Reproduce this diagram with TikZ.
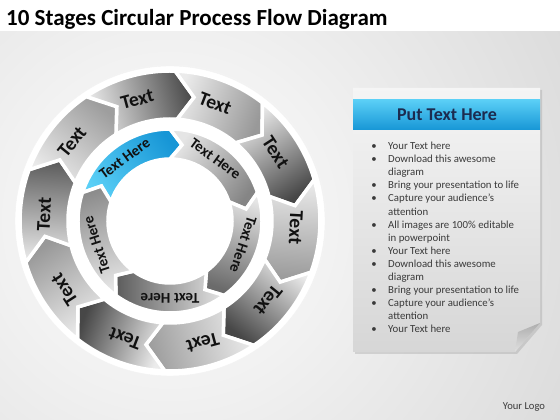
\documentclass[tikz,border=0pt]{standalone}
\usepackage{fontspec}
\setmainfont{Carlito}
\usepackage{tikz}
\usetikzlibrary{shapes}
\usetikzlibrary{shadows}
\usetikzlibrary{calc}
\usetikzlibrary{positioning}
\usepackage{xcolor}
\definecolor{mytext}{HTML}{111111}
\definecolor{mygray}{HTML}{3A3A3A}
\definecolor{mynavy}{HTML}{1C2B4F}
\definecolor{bluetop}{HTML}{5ACFF6}
\definecolor{bluebot}{HTML}{1796D6}
\newcommand{\listbullet}{\llap{\textbullet\hspace{11.5pt}}}
\tikzset{x=1pt, y=1pt, every node/.style={inner sep=0pt}}
\tikzstyle{seg} = [draw=white, line width=3.5pt]
\tikzstyle{outlabel} = [text=mytext, font={\bfseries\fontsize{19.5}{21}\selectfont}]
\tikzstyle{inlabel} = [text=mytext, font={\bfseries\fontsize{15}{17}\selectfont}]
\tikzstyle{listtext} = [align=left, text=mygray, font={\fontsize{10.8}{13.07}\selectfont}]

\begin{document}
\begin{tikzpicture}
  \useasboundingbox (0,0) rectangle (560,420);
  \fill[white] (0,0) rectangle (560,420);
  \begin{scope}
    \clip (0,0) rectangle (560,388);
    \shade[inner color=white, outer color=black!22] (170,200) circle (700);
  \end{scope}
  \node[anchor=base west, font={\bfseries\fontsize{23}{26}\selectfont}] (title) at (6,394) {10 Stages Circular Process Flow Diagram};

  \begin{scope}[shift={(170,199)}]
    \fill[white, draw=black!5] (0,0) circle (155);
    \foreach \c/\t [count=\k] in {105/70, 69/40, 33/72, -3/40, -39/72, -75/38, -111/72, -147/40, 177/64, 141/38} {
      \pgfmathsetmacro{\sa}{\c-180}
      \shadedraw[seg, top color=black!\t, bottom color=black!8, shading angle=\sa]
        (\c+19:150) arc[start angle=\c+19, end angle=\c-17, radius=150] -- (\c-26:126)
        -- (\c-19:102) arc[start angle=\c-19, end angle=\c+17, radius=102] -- (\c+10:126) -- cycle;
      \node[outlabel, rotate=\c-90] (out\k) at (\c:126) {Text};
    }
    \shadedraw[seg, top color=bluebot, bottom color=bluetop, shading angle=-54]
      (162:92) arc[start angle=162, end angle=90, radius=92] -- (81:77)
      -- (90:62) arc[start angle=90, end angle=162, radius=62] -- (153:77) -- cycle;
    \node[inlabel, rotate=36] (in1) at (126:77) {Text Here};
    \foreach \c/\t [count=\k from 2] in {54/48, -18/58, -90/64, -162/45} {
      \pgfmathsetmacro{\sa}{\c-180}
      \shadedraw[seg, top color=black!\t, bottom color=black!10, shading angle=\sa]
        (\c+36:92) arc[start angle=\c+36, end angle=\c-36, radius=92] -- (\c-45:77)
        -- (\c-36:62) arc[start angle=\c-36, end angle=\c+36, radius=62] -- (\c+27:77) -- cycle;
      \node[inlabel, rotate=\c-90] (in\k) at (\c:77) {Text Here};
    }
  \end{scope}

  \shade[top color=black!4, bottom color=black!16, drop shadow={opacity=0.25, shadow xshift=2pt, shadow yshift=-2pt}]
    (353,332) -- (540,332) -- (540,97) -- (515,68) -- (353,68) -- cycle;
  \shade[top color=black!32, bottom color=black!12] (540,97) -- (518,88) -- (515,68) -- cycle;
  \shade[top color=bluetop, bottom color=bluebot] (353,290) rectangle (540,320);
  \node[text=mynavy, font={\bfseries\fontsize{18}{20}\selectfont}] (head) at (447,305) {Put Text Here};
  \node[listtext, anchor=north west] (list) at (388,278) {\listbullet Your Text here\\
    \listbullet Download this awesome\\ diagram\\
    \listbullet Bring your presentation to life\\
    \listbullet Capture your audience’s\\ attention\\
    \listbullet All images are 100\% editable\\ in powerpoint\\
    \listbullet Your Text here\\
    \listbullet Download this awesome\\ diagram\\
    \listbullet Bring your presentation to life\\
    \listbullet Capture your audience’s\\ attention\\
    \listbullet Your Text here};
  \node[anchor=base, text=mygray, font={\fontsize{10.6}{12}\selectfont}] (logo) at (524,10) {Your Logo};
\end{tikzpicture}
\end{document}
